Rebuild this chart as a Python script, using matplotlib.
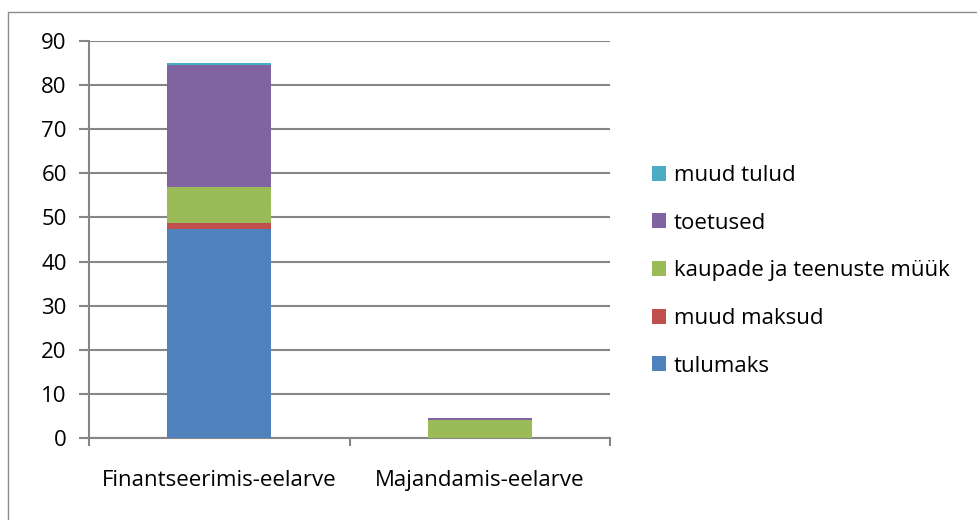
import matplotlib
matplotlib.use("Agg")
import matplotlib.pyplot as plt
from matplotlib.patches import Rectangle, Patch
import numpy as np

categories = ["Finantseerimis-eelarve", "Majandamis-eelarve"]
series_names = ["tulumaks", "muud maksud", "kaupade ja teenuste müük", "toetused", "muud tulud"]
tulumaks = [47.4, 0.0]
muud_maksud = [1.4, 0.0]
kaupade_muuk = [8.1, 4.1]
toetused = [27.6, 0.45]
muud_tulud = [0.5, 0.0]
colors = ["#4F81BD", "#C0504D", "#9BBB59", "#8064A2", "#4BACC6"]
yticks = [0, 10, 20, 30, 40, 50, 60, 70, 80, 90]

plt.rcParams['font.family'] = ['Open Sans', 'DejaVu Sans']

W, H = 977, 520
fig = plt.figure(figsize=(W / 100, H / 100), dpi=100)
fig.patches.append(Rectangle((8 / W, -0.1), 1.2, (H - 12) / H + 0.1, transform=fig.transFigure,
                             fill=False, edgecolor="#8c8c8c", linewidth=1.0))
ax = fig.add_axes([89 / W, (H - 438) / H, (610 - 89) / W, (438 - 41) / H])

x = np.arange(len(categories))
bottom = np.zeros(len(categories))
handles = []
for name, vals, c in zip(series_names, [tulumaks, muud_maksud, kaupade_muuk, toetused, muud_tulud], colors):
    vals = np.array(vals)
    ax.bar(x, vals, width=0.4, bottom=bottom, color=c, edgecolor="none", zorder=3)
    bottom += vals
    handles.append(Patch(facecolor=c, edgecolor="none", label=name))

ax.set_xlim(-0.5, 1.5)
ax.set_ylim(0, 90)
ax.set_yticks(yticks)
ax.set_xticks([-0.5, 0.5, 1.5], minor=True)
ax.set_xticks(x)
ax.set_xticklabels(categories)
ax.tick_params(axis='x', which='major', length=0, pad=23, labelsize=16)
ax.tick_params(axis='x', which='minor', length=6, width=1.5, color="#868686")
ax.tick_params(axis='y', length=7, width=1.5, color="#868686", labelsize=16, pad=9)
ax.yaxis.grid(True, color="#868686", linewidth=1.5, zorder=0)
ax.set_axisbelow(True)
for s in ["top", "right"]:
    ax.spines[s].set_visible(False)
for s in ["left", "bottom"]:
    ax.spines[s].set_color("#868686")
    ax.spines[s].set_linewidth(1.5)

leg = fig.legend(handles=handles[::-1], loc="upper left", bbox_to_anchor=(643 / W, (H - 156) / H),
                 frameon=False, fontsize=16, handlelength=0.65, handleheight=0.65,
                 handletextpad=0.35, labelspacing=1.2, borderaxespad=0)

fig.savefig("out.png", dpi=100, facecolor="white")
